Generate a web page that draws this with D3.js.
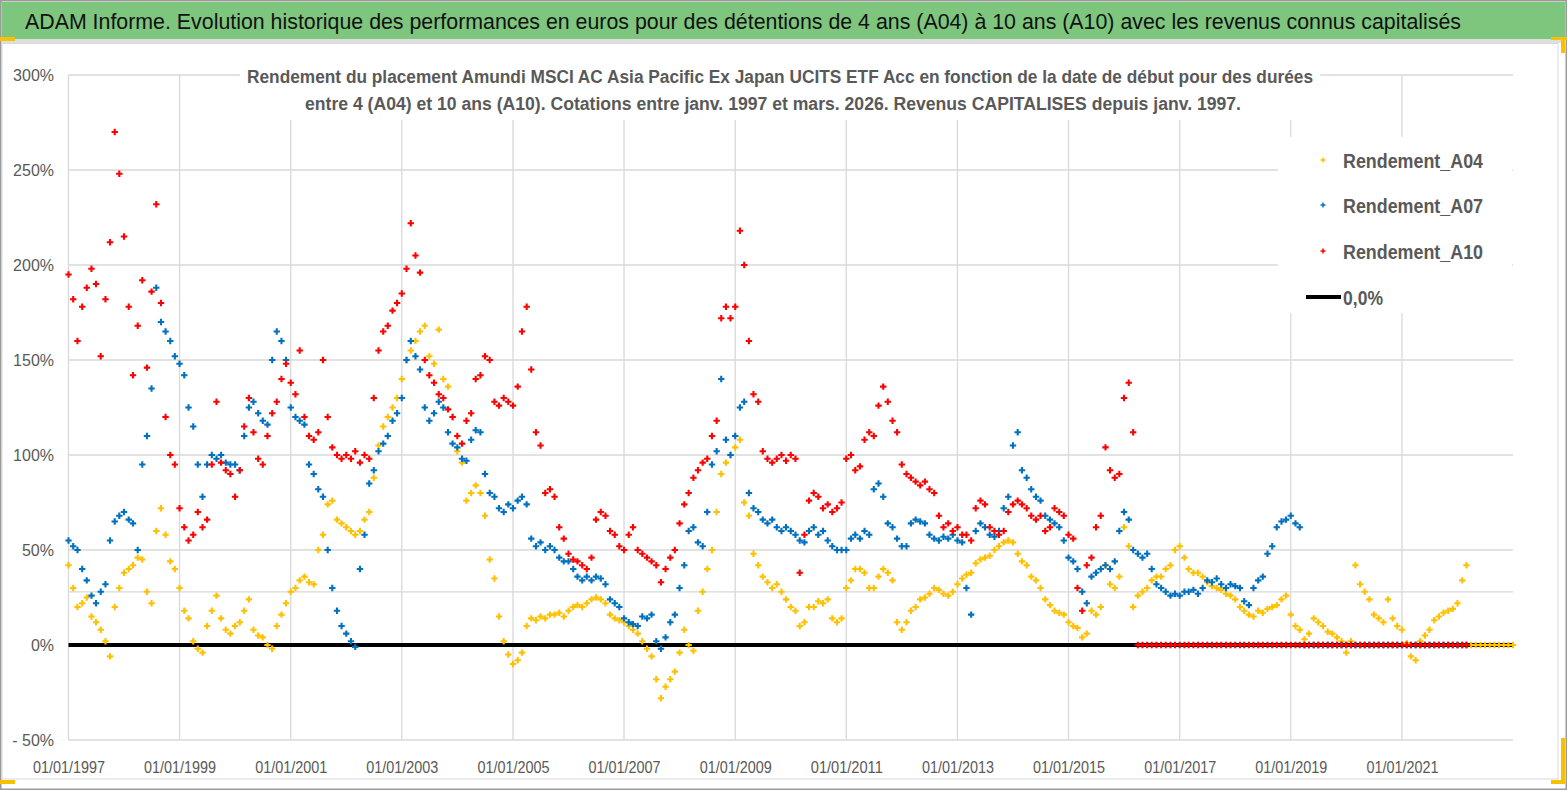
<!DOCTYPE html>
<html>
<head>
<meta charset="utf-8">
<script src="https://cdn.jsdelivr.net/npm/d3@7"></script>
<style>
  body { margin: 0; background: #fff; }
  svg { display: block; font-family: "Liberation Sans Narrow", "Liberation Sans", Arial, sans-serif; }
</style>
</head>
<body>
<svg id="chart" width="1567" height="790"></svg>
<script>
// monthly values (%), first value = janv. 1997
const A04 = [
  42, 30, 20, 22, 25, 15, 12, 8, 2, -6, 20, 30,          // 1997
  38, 40, 42, 46, 45, 28, 22, 60, 72, 58, 44, 40,        // 1998
  30, 18, 14, 2, -2, -4, 10, 18, 26, 14, 8, 6,           // 1999
  10, 12, 18, 24, 8, 5, 4, 0, -2, 10, 16, 22,            // 2000
  28, 30, 34, 36, 33, 32, 50, 58, 74, 76, 66, 64,        // 2001
  62, 60, 58, 60, 66, 70, 88, 105, 115, 120, 125, 130,   // 2002
  140, 150, 155, 160, 165, 168, 152, 148, 166, 140, 136, 120, // 2003
  102, 96, 76, 80, 84, 80, 68, 45, 35, 15, 2, -5,        // 2004
  -10, -8, -4, 10, 14, 13, 15, 14, 16, 16, 17, 15,       // 2005
  18, 20, 21, 20, 22, 24, 25, 24, 22, 16, 14, 13,        // 2006
  12, 10, 8, 6, 2, -2, -6, -18, -28, -22, -18, -14,      // 2007
  -4, 8, 0, -3, 18, 28, 40, 50, 70, 90, 96, 100,         // 2008
  104, 108, 75, 68, 48, 42, 36, 33, 30, 32, 28, 24,      // 2009
  20, 18, 10, 12, 20, 20, 23, 22, 24, 14, 12, 14,        // 2010
  30, 34, 40, 40, 38, 30, 30, 36, 40, 38, 34, 12,        // 2011
  8, 12, 18, 20, 24, 25, 27, 30, 29, 27, 26, 28,         // 2012
  32, 35, 37, 38, 43, 45, 46, 47, 50, 52, 54, 55,        // 2013
  54, 48, 44, 42, 36, 34, 30, 24, 21, 18, 17, 16,        // 2014
  12, 10, 9, 4, 6, 18, 16, 20, 42, 32, 30, 36,           // 2015
  62, 52, 20, 26, 28, 30, 34, 36, 36, 40, 42, 50,        // 2016
  52, 46, 40, 38, 38, 36, 33, 31, 30, 29, 27, 26,        // 2017
  24, 20, 18, 16, 15, 18, 17, 19, 20, 21, 24, 26,        // 2018
  16, 10, 8, 3, 6, 14, 12, 10, 7, 6, 4, 2,               // 2019
  -4, 2, 42, 32, 28, 24, 16, 14, 12, 24, 14, 10,         // 2020
  8, 1, -6, -8, 2, 5, 8, 13, 15, 17, 18, 19,             // 2021
  22, 34, 42, 0, 0, 0, 0, 0, 0, 0, 0, 0,                 // 2022
  0                                                      // 2023
];

const A07 = [
  55, 52, 50, 40, 34, 26, 22, 28, 32, 55, 65, 68,        // 1997
  70, 66, 64, 50, 95, 110, 135, 188, 170, 165, 160, 152, // 1998
  148, 142, 125, 115, 95, 78, 95, 100, 98, 100, 96, 95,  // 1999
  95, 92, 110, 125, 128, 122, 118, 116, 150, 165, 160, 150, // 2000
  125, 120, 118, 116, 95, 90, 82, 78, 50, 30, 18, 10,    // 2001
  6, 2, -1, 40, 58, 85, 92, 102, 106, 110, 118, 122,     // 2002
  130, 150, 160, 152, 145, 125, 118, 122, 128, 125, 112, 106, // 2003
  104, 98, 97, 108, 113, 112, 90, 80, 78, 72, 70, 74,    // 2004
  72, 76, 78, 74, 56, 52, 54, 50, 52, 50, 46, 44,        // 2005
  44, 40, 36, 34, 36, 34, 36, 35, 32, 24, 22, 20,        // 2006
  14, 12, 11, 10, 15, 14, 16, 2, -2, 4, 12, 16,          // 2007
  30, 42, 60, 62, 54, 52, 70, 95, 102, 140, 108, 100,    // 2008
  110, 125, 128, 80, 72, 70, 66, 64, 66, 62, 60, 62,     // 2009
  60, 58, 55, 54, 60, 62, 58, 60, 55, 52, 50, 50,        // 2010
  50, 56, 58, 56, 60, 58, 82, 85, 78, 64, 62, 56,        // 2011
  52, 52, 64, 66, 65, 64, 58, 56, 55, 57, 56, 58,        // 2012
  55, 54, 30, 16, 60, 64, 62, 58, 57, 60, 72, 78,        // 2013
  105, 112, 92, 88, 82, 78, 76, 68, 66, 64, 62, 55,      // 2014
  46, 44, 40, 28, 22, 36, 38, 40, 42, 40, 44, 60,        // 2015
  70, 66, 50, 48, 46, 48, 40, 32, 30, 28, 26, 27,        // 2016
  26, 28, 28, 29, 27, 30, 34, 33, 35, 32, 30, 32,        // 2017
  31, 30, 23, 21, 30, 34, 36, 48, 52, 62, 65, 66,        // 2018
  68, 64, 62, 0, 0, 0, 0, 0, 0, 0, 0, 0,                 // 2019
  0, 0, 0, 0, 0, 0, 0, 0, 0, 0, 0, 0,                    // 2020
  0, 0, 0, 0, 0, 0, 0, 0, 0, 0, 0, 0,                    // 2021
  0, 0, 0                                                // 2022
];

const A10 = [
  195, 182, 160, 178, 188, 198, 190, 152, 182, 212, 270, 248, // 1997
  215, 178, 142, 168, 192, 146, 186, 232, 180, 120, 100, 95,  // 1998
  72, 62, 55, 58, 70, 62, 66, 95, 128, 96, 92, 90,       // 1999
  78, 92, 115, 130, 112, 98, 95, 110, 122, 128, 140, 148, // 2000
  138, 132, 155, 120, 110, 108, 112, 150, 120, 104, 100, 98, // 2001
  100, 98, 102, 96, 100, 98, 130, 155, 165, 168, 176, 180, // 2002
  185, 198, 222, 205, 196, 150, 142, 138, 132, 130, 124, 120, // 2003
  110, 106, 118, 122, 140, 142, 152, 150, 128, 126, 130, 128, // 2004
  126, 136, 165, 178, 145, 112, 105, 80, 82, 78, 62, 56, // 2005
  48, 45, 44, 42, 40, 46, 66, 70, 68, 60, 58, 52,        // 2006
  50, 58, 62, 50, 48, 46, 44, 42, 33, 40, 46, 50,        // 2007
  64, 74, 80, 88, 92, 96, 98, 110, 118, 172, 178, 172,   // 2008
  178, 218, 200, 160, 132, 128, 102, 98, 96, 98, 100, 97, // 2009
  100, 98, 38, 58, 76, 80, 78, 72, 74, 70, 72, 75,       // 2010
  98, 100, 92, 94, 108, 112, 110, 126, 136, 128, 118, 112, // 2011
  95, 90, 88, 86, 84, 86, 82, 80, 68, 62, 64, 60,        // 2012
  62, 58, 58, 55, 72, 76, 74, 62, 60, 58, 60, 70,        // 2013
  74, 76, 74, 72, 68, 66, 68, 60, 62, 72, 70, 68,        // 2014
  58, 56, 30, 18, 42, 46, 62, 68, 104, 92, 88, 90,       // 2015
  130, 138, 112, 0, 0, 0, 0, 0, 0, 0, 0, 0,              // 2016
  0, 0, 0, 0, 0, 0, 0, 0, 0, 0, 0, 0,                    // 2017
  0, 0, 0, 0, 0, 0, 0, 0, 0, 0, 0, 0,                    // 2018
  0, 0, 0, 0, 0, 0, 0, 0, 0, 0, 0, 0,                    // 2019
  0, 0, 0, 0, 0, 0, 0, 0, 0, 0, 0, 0,                    // 2020
  0, 0, 0, 0, 0, 0, 0, 0, 0, 0, 0, 0,                    // 2021
  0, 0, 0                                                // 2022
];

const SERIES_NAMES = ["Rendement_A04", "Rendement_A07", "Rendement_A10"];
const SERIES_COLORS = ["#FFC000", "#0070C0", "#FF0000"];
const Y_TICKS = [-50, 0, 50, 100, 150, 200, 250, 300];
const EXTRA_GRID = [28];
const X_TICK_YEARS = [1997, 1999, 2001, 2003, 2005, 2007, 2009, 2011, 2013, 2015, 2017, 2019, 2021];
const ZERO_LABEL = "0,0%";

const TITLE = "ADAM Informe. Evolution historique des performances en euros pour des détentions de 4 ans (A04) à 10 ans (A10) avec les revenus connus capitalisés";
const SUB1 = "Rendement du placement Amundi MSCI  AC Asia Pacific Ex Japan UCITS ETF Acc en fonction de la date de début pour des durées";
const SUB2 = "entre 4 (A04) et 10 ans (A10). Cotations entre janv. 1997 et mars. 2026. Revenus CAPITALISES depuis janv. 1997.";

const START = new Date(1997, 0, 1);
const END = new Date(2023, 0, 1);

const svg = d3.select("#chart");

const X_SCALE = d3.scaleTime().domain([START, END]).range([68.5, 1513]);
const Y_SCALE = d3.scaleLinear().domain([-50, 300]).range([740, 75]);

// outer frame + banner
svg.append("rect").attr("x", 0.75).attr("y", 0.75).attr("width", 1565.5).attr("height", 788.5)
   .attr("fill", "#fff").attr("stroke", "#9a9a9a").attr("stroke-width", 1.5);
svg.append("rect").attr("x", 1.5).attr("y", 2).attr("width", 1564).attr("height", 37).attr("fill", "#7ec67e");
svg.append("rect").attr("x", 1.5).attr("y", 39).attr("width", 1564).attr("height", 4).attr("fill", "#dedede");
svg.append("rect").attr("x", 2).attr("y", 43.5).attr("width", 1556).attr("height", 735.5)
   .attr("fill", "none").attr("stroke", "#d9d9d9").attr("stroke-width", 1);

svg.append("text")
   .attr("x", 25).attr("y", 29)
   .attr("font-size", 21.5).attr("fill", "#111")
   .attr("textLength", 1436).attr("lengthAdjust", "spacingAndGlyphs")
   .text(TITLE);

// gridlines
const grid = svg.append("g").attr("stroke", "#d9d9d9").attr("stroke-width", 1.3);
grid.selectAll("line.h")
    .data(Y_TICKS.concat(EXTRA_GRID))
    .enter().append("line")
      .attr("x1", X_SCALE(START)).attr("x2", X_SCALE(END))
      .attr("y1", (d) => Y_SCALE(d)).attr("y2", (d) => Y_SCALE(d));
grid.selectAll("line.v")
    .data(X_TICK_YEARS)
    .enter().append("line")
      .attr("x1", (d) => X_SCALE(new Date(d, 0, 1))).attr("x2", (d) => X_SCALE(new Date(d, 0, 1)))
      .attr("y1", Y_SCALE(300)).attr("y2", Y_SCALE(-50));

// white boxes behind title and legend
svg.append("rect").attr("x", 240).attr("y", 55).attr("width", 1080).attr("height", 65).attr("fill", "#fff");
svg.append("rect").attr("x", 1278).attr("y", 137).attr("width", 234).attr("height", 176).attr("fill", "#fff");

// axes
const xAxis = svg.append("g")
    .attr("transform", "translate(0," + 765 + ")")
    .call(d3.axisBottom(X_SCALE)
            .tickValues(X_TICK_YEARS.map((y) => new Date(y, 0, 1)))
            .tickFormat(d3.timeFormat("%d/%m/%Y"))
            .tickSize(0));
xAxis.select(".domain").remove();
xAxis.selectAll("text")
     .attr("font-family", null).attr("font-size", 16).attr("fill", "#595959")
     .attr("dy", "0.32em")
     .attr("textLength", 72).attr("lengthAdjust", "spacingAndGlyphs");

const yAxis = svg.append("g")
    .attr("transform", "translate(54,0)")
    .call(d3.axisLeft(Y_SCALE)
            .tickValues(Y_TICKS)
            .tickFormat((d) => d < 0 ? "- " + Math.abs(d) + "%" : d + "%")
            .tickSize(0).tickPadding(0));
yAxis.select(".domain").remove();
yAxis.selectAll("text")
     .attr("font-family", null).attr("font-size", 16).attr("fill", "#595959");

// 0,0% line
svg.append("line")
   .attr("x1", X_SCALE(START)).attr("x2", X_SCALE(END))
   .attr("y1", Y_SCALE(0)).attr("y2", Y_SCALE(0))
   .attr("stroke", "#000").attr("stroke-width", 4);

// scatter series ("+" markers)
const PLUS = "M-3.2,0H3.2M0,-3.2V3.2";
[A04, A07, A10].forEach((vals, i) => {
  svg.append("g")
     .selectAll("path")
     .data(vals)
     .enter().append("path")
       .attr("d", PLUS)
       .attr("transform", (d, m) => "translate(" + X_SCALE(d3.timeMonth.offset(START, m)) + "," + Y_SCALE(d) + ")")
       .attr("stroke", SERIES_COLORS[i])
       .attr("stroke-width", 2.1)
       .attr("fill", "none");
});

// subtitle
svg.append("text").attr("x", 247).attr("y", 83)
   .attr("font-size", 17.5).attr("font-weight", "bold").attr("fill", "#595959")
   .attr("textLength", 1066).attr("lengthAdjust", "spacingAndGlyphs")
   .text(SUB1);
svg.append("text").attr("x", 305).attr("y", 110)
   .attr("font-size", 17.5).attr("font-weight", "bold").attr("fill", "#595959")
   .attr("textLength", 936).attr("lengthAdjust", "spacingAndGlyphs")
   .text(SUB2);

// legend
const LEG_Y = [168, 213, 259];
SERIES_NAMES.forEach((name, i) => {
  svg.append("path")
     .attr("d", "M-2.5,0H2.5M0,-2.5V2.5")
     .attr("transform", "translate(1323," + (LEG_Y[i] - 8) + ")")
     .attr("stroke", SERIES_COLORS[i]).attr("stroke-width", 1.5);
  svg.append("text").attr("x", 1343).attr("y", LEG_Y[i])
     .attr("font-size", 20).attr("font-weight", "bold").attr("fill", "#595959")
     .attr("textLength", 140).attr("lengthAdjust", "spacingAndGlyphs")
     .text(name);
});
svg.append("line").attr("x1", 1306).attr("x2", 1341).attr("y1", 297).attr("y2", 297)
   .attr("stroke", "#000").attr("stroke-width", 4);
svg.append("text").attr("x", 1343).attr("y", 305)
   .attr("font-size", 20).attr("font-weight", "bold").attr("fill", "#595959")
   .attr("textLength", 40).attr("lengthAdjust", "spacingAndGlyphs")
   .text(ZERO_LABEL);

// selection handles (corners)
const handles = [[0, 37, 15, 4], [1551, 37, 16, 3], [1561, 37, 4, 16],
                 [0, 780, 15, 4], [1551, 780, 14, 4], [1561, 738, 4, 46]];
svg.append("g").selectAll("rect").data(handles).enter().append("rect")
   .attr("x", (d) => d[0]).attr("y", (d) => d[1])
   .attr("width", (d) => d[2]).attr("height", (d) => d[3])
   .attr("fill", "#f5c100");
</script>
</body>
</html>
